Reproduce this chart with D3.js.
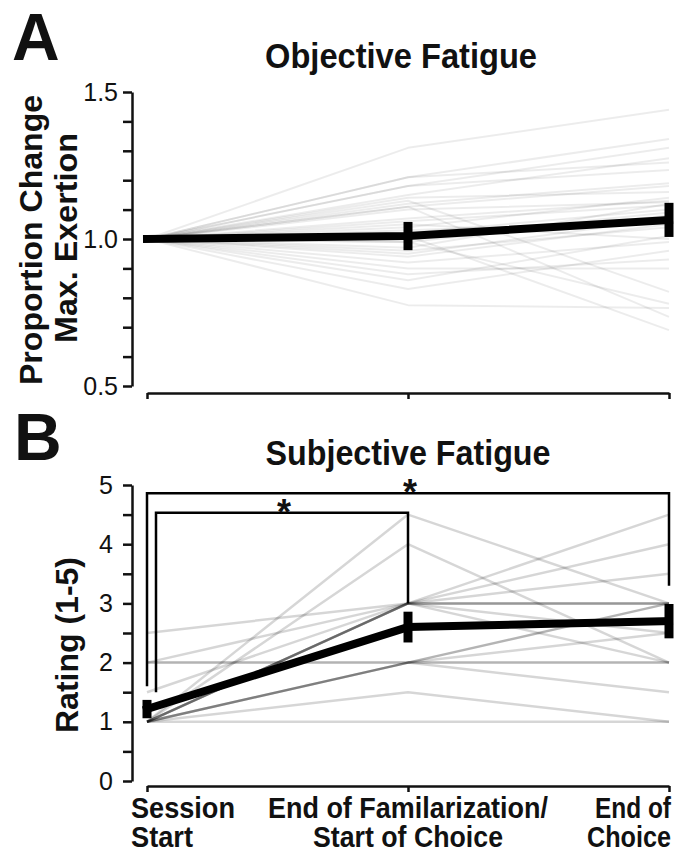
<!DOCTYPE html>
<html><head><meta charset="utf-8">
<script src="https://cdn.jsdelivr.net/npm/d3@7"></script>
<style>
body{margin:0;background:#fff}
svg{display:block}
text{font-family:"Liberation Sans",Arial,Helvetica,sans-serif;fill:#111}
</style>
</head><body>
<svg id="chart" width="685" height="854"></svg>
<script>
// ---------------- DATA ----------------
const timepoints = ["Session Start", "End of Familarization/Start of Choice", "End of Choice"];
const xLabelLines = [["Session", "Start"], ["End of Familarization/", "Start of Choice"], ["End of", "Choice"]];

// Panel A: objective fatigue (proportion change in max. exertion), one entry per subject
const objStart = [1,1,1,1,1,1,1,1,1,1,1,1,1,1,1,1,1,1,1,1,1,1,1,1,1,1,1,1,1,1,1,1];
const objMid   = [1.31,1.21,1.18,1.15,1.21,1.18,1.12,1.11,1.14,1.04,1.10,1.06,1.02,1.00,0.99,1.03,0.96,1.13,1.11,1.01,0.99,0.83,0.86,0.94,0.92,0.90,0.775,0.88,0.97,1.05,1.07,0.95];
const objEnd   = [1.44,1.34,1.31,1.275,1.26,1.235,1.19,1.18,1.16,1.14,1.125,1.115,1.10,1.09,1.08,1.06,1.04,0.82,0.735,0.69,0.78,0.96,1.01,1.05,0.99,0.90,0.765,0.93,1.12,1.00,1.13,1.07];
const objMean  = [1.0, 1.01, 1.065];
const objSem   = [0, 0.048, 0.058];
const objTicks = [0.5,0.6,0.7,0.8,0.9,1.0,1.1,1.2,1.3,1.4,1.5];
const objTickLabels = [0.5, 1.0, 1.5];

// Panel B: subjective fatigue ratings, distinct trajectories and how many subjects share each
const subjStart = [1, 1, 1, 1, 2,   1, 2.5, 1, 1, 2,   1, 1,   1, 2,   1.5];
const subjMid   = [4.5,4, 3, 3, 3,   3, 3,   3, 2, 2,   2, 1.5, 1, 2,   3];
const subjEnd   = [3, 2, 4.5,4, 3.5, 3, 3,   2, 3, 2.5, 2, 1,   1, 1.5, 2.5];
const subjCount = [1, 1, 1, 1, 1,   2, 1,   1, 2, 1,   2, 1,   1, 1,   1];
const subjMean  = [1.215, 2.6, 2.7];
const subjSem   = [0.155, 0.26, 0.29];
const subjTicks = [0,0.5,1,1.5,2,2.5,3,3.5,4,4.5,5];
const subjTickLabels = [0,1,2,3,4,5];

// significance brackets (indices of timepoints, levels in rating units)
const bracketFrom = [0, 0];
const bracketTo = [2, 1];
const bracketTop = [4.86, 4.53];
const bracketLeftEnd = [1.6, 1.5];
const bracketRightEnd = [3.3, 3.0];
const bracketLabel = ["*", "*"];

// ---------------- DRAW ----------------
const svg = d3.select("#chart");
const x = d3.scalePoint().domain(d3.range(timepoints.length)).range([147, 669]);
const yA = d3.scaleLinear().domain([0.5, 1.5]).range([386, 92]);
const yB = d3.scaleLinear().domain([0, 5]).range([781, 485]);
const axisX = 132;

function styleAxis(g) {
  g.selectAll("path.domain").attr("stroke", "#111").attr("stroke-width", 2.5);
  g.selectAll(".tick line").attr("stroke", "#111").attr("stroke-width", 2.5);
}

function panel(y, starts, mids, ends, counts, alpha, lw, mean, sem, ticks, tickLabels, fmt, labelPad, xAxisY) {
  const g = svg.append("g");
  const line = d3.line().x((d, i) => x(i)).y(d => y(d));
  starts.forEach((s, i) => {
    const n = counts ? counts[i] : 1;
    g.append("path")
      .attr("d", line([s, mids[i], ends[i]]))
      .attr("fill", "none")
      .attr("stroke", "#000")
      .attr("stroke-opacity", 1 - Math.pow(1 - alpha, n))
      .attr("stroke-width", lw)
      .attr("stroke-linejoin", "round");
  });
  g.append("path")
    .attr("d", line(mean))
    .attr("fill", "none").attr("stroke", "#000")
    .attr("stroke-width", 8).attr("stroke-linecap", "square");
  mean.forEach((m, i) => {
    if (sem[i] > 0) {
      g.append("line")
        .attr("x1", x(i)).attr("x2", x(i))
        .attr("y1", y(m - sem[i])).attr("y2", y(m + sem[i]))
        .attr("stroke", "#000").attr("stroke-width", 9);
    }
  });
  const ya = svg.append("g").attr("transform", `translate(${axisX},0)`)
    .call(d3.axisLeft(y).tickValues(ticks).tickSize(9).tickSizeOuter(0).tickPadding(labelPad)
      .tickFormat(d => tickLabels.some(t => Math.abs(t - d) < 1e-9) ? fmt(d) : ""));
  styleAxis(ya);
  ya.selectAll(".tick text").attr("font-size", 25).attr("fill", "#1a1a1a")
    .style("font-family", '"Liberation Sans",Arial,sans-serif');
  const xa = svg.append("g").attr("transform", `translate(0,${xAxisY})`)
    .call(d3.axisBottom(x).tickSize(6).tickSizeOuter(0).tickFormat(""));
  styleAxis(xa);
  return g;
}

panel(yA, objStart, objMid, objEnd, null, 0.075, 2, objMean, objSem, objTicks, objTickLabels, d3.format(".1f"), 5, 393);
panel(yB, subjStart, subjMid, subjEnd, subjCount, 0.16, 2.5, subjMean, subjSem, subjTicks, subjTickLabels, d3.format("d"), 10, 786);

// brackets
const insetL = [0, 9];
bracketFrom.forEach((f, i) => {
  const x0 = x(f) + insetL[i], x1 = x(bracketTo[i]);
  svg.append("path")
    .attr("d", `M${x0},${yB(bracketLeftEnd[i])}V${yB(bracketTop[i])}H${x1}V${yB(bracketRightEnd[i])}`)
    .attr("fill", "none").attr("stroke", "#000").attr("stroke-width", 2.5);
  svg.append("text")
    .attr("x", (x0 + x1) / 2 + 2).attr("y", yB(bracketTop[i]) + 12)
    .attr("text-anchor", "middle").attr("font-size", 36).attr("font-weight", "bold")
    .text(bracketLabel[i]);
});

function txt(t, xx, yy, size, opts = {}) {
  const e = svg.append("text").attr("x", xx).attr("y", yy).attr("font-size", size)
    .attr("font-weight", opts.weight || "bold").attr("text-anchor", opts.anchor || "middle").text(t);
  if (opts.len) e.attr("textLength", opts.len).attr("lengthAdjust", "spacingAndGlyphs");
  if (opts.rot) e.attr("transform", `rotate(-90,${xx},${yy})`);
  return e;
}
txt("A", 12, 60, 66, {anchor: "start"});
txt("B", 14, 460, 66, {anchor: "start"});
txt("Objective Fatigue", 401, 68, 35, {len: 272});
txt("Subjective Fatigue", 408, 465, 35, {len: 285});
txt("Proportion Change", 42, 240, 32, {rot: true, len: 290});
txt("Max. Exertion", 77, 238, 32, {rot: true, len: 210});
txt("Rating (1-5)", 78, 645, 32, {rot: true});

const anchors = ["start", "middle", "end"];
const anchorX = [x(0) - 16, x(1), x(2) + 2];
const widths = [[104, 62], [280, 190], [76, 84]];
xLabelLines.forEach((lines, i) => {
  lines.forEach((l, j) => {
    txt(l, anchorX[i], 818 + j * 29, 29, {anchor: anchors[i], len: widths[i][j]});
  });
});
</script>
</body></html>
